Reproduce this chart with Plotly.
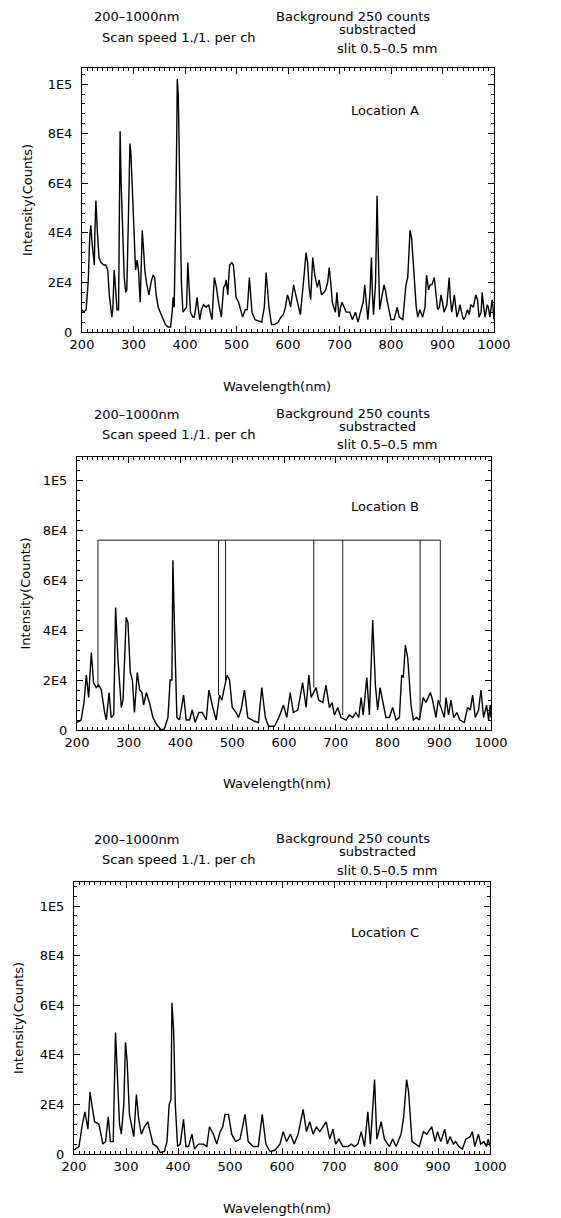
import plotly.graph_objects as go

# ---------------- data (wavelength nm, intensity counts) ----------------
wl_a = [200, 203, 208, 212, 215, 217, 220, 223, 224, 225, 227, 230, 233, 237, 242, 246, 250, 253, 258, 260,
        262.5, 265, 268, 271, 272, 274, 276, 279, 282, 285, 287, 290, 293, 295, 298, 301, 304, 307, 310, 313,
        315, 317, 319, 322, 325, 330, 334, 338, 341, 344, 348, 352, 357, 362, 367, 372, 375, 377, 379, 381,
        382, 384, 385, 387, 388, 390, 391, 393, 396, 400, 403, 405.5, 408, 410.6, 415, 418, 421, 423.5, 426, 428.7,
        432, 436, 441, 446, 449, 452.5, 455, 457, 461, 465, 470.5, 475, 478, 480, 483, 486.6, 491, 494, 497, 499,
        504, 508, 512, 517, 521, 525, 528, 530, 536, 549, 554, 557.5, 560, 563, 568, 574, 581, 586, 591, 595,
        599, 602, 605, 611, 614, 617, 624, 630, 635, 638, 641, 644, 648, 652, 657, 660.5, 665, 670, 673, 677,
        680, 683, 686, 692, 695, 699, 702, 705, 710, 713, 720, 725, 731, 736, 742, 746, 749, 752, 755, 759,
        762, 764, 766, 770, 773, 775, 778, 782, 786.5, 790, 793, 800, 806, 812, 816, 823, 829, 832.5, 835, 837,
        840, 842, 846, 849, 852, 856, 861.5, 866, 869, 873, 876, 879.5, 884, 887, 890.5, 894, 897, 900, 903, 908.5,
        913, 915, 918, 923, 928, 931, 934, 938, 941, 944, 948.5, 952, 955, 960, 964.5, 968, 971, 975, 977, 980,
        982.6, 987, 989, 992, 996.5, 998, 1000]
int_a = [9000, 8000, 9000, 20000, 38000, 43000, 35000, 30000, 27000, 40000, 53000, 40000, 30000, 28000, 27000, 27000, 25000, 15000, 6000, 10000,
         25000, 18000, 9000, 9000, 30000, 81000, 60000, 40000, 22000, 16000, 17000, 45000, 76000, 72000, 55000, 40000, 25000, 29000, 24000, 12000,
         25000, 41000, 35000, 25000, 20000, 15000, 20000, 23000, 22000, 15000, 10000, 8000, 5000, 3000, 2000, 2000, 8000, 14000, 10000, 30000,
         47000, 80000, 102000, 95000, 80000, 50000, 35000, 20000, 8000, 9000, 10000, 28000, 15000, 8000, 6000, 6000, 10000, 14000, 9000, 5000,
         9000, 11000, 10000, 11000, 8000, 5000, 15000, 22000, 18000, 12000, 6000, 18000, 19000, 21000, 15000, 27000, 28000, 27000, 20000, 14000,
         12000, 9000, 6000, 9000, 9000, 22000, 14000, 8000, 5000, 4000, 10000, 24000, 18000, 10000, 3000, 3000, 4000, 6000, 7000, 10000,
         15000, 13000, 10000, 19000, 16000, 13000, 7000, 20000, 32000, 28000, 18000, 13000, 30000, 23000, 18000, 21000, 15000, 16000, 17000, 20000,
         26000, 20000, 12000, 8000, 16000, 6000, 10000, 12000, 9000, 8000, 8000, 5000, 8000, 4000, 9000, 12000, 19000, 12000, 5000, 15000,
         30000, 15000, 7000, 20000, 55000, 35000, 9000, 14000, 19000, 16000, 12000, 5000, 5000, 10000, 6000, 5000, 19000, 22000, 30000, 41000,
         38000, 32000, 20000, 10000, 6000, 9000, 6000, 10000, 23000, 17000, 19000, 19000, 22000, 15000, 9000, 10000, 15000, 12000, 8000, 11000,
         22000, 14000, 8000, 15000, 6000, 8000, 11000, 7000, 5000, 6000, 9000, 7000, 11000, 10000, 15000, 13000, 6000, 8000, 16000, 10000,
         6000, 11000, 10000, 6000, 13000, 10000, 5000]

wl_b = [200, 208, 213.5, 218, 222.5, 227.7, 232, 237, 242, 247, 253.4, 256.6, 262, 266, 271, 274.6, 279, 285.6, 289, 295,
        298.5, 303, 307, 311, 316.5, 321, 325.5, 328.7, 334, 340, 346.7, 354.4, 363, 369, 375.7, 380, 383.4, 385.3, 388.5, 393,
        398, 406, 411, 417.5, 422.6, 428.4, 435.5, 442, 449.7, 454.8, 462.5, 469, 475.4, 480, 483.8, 490, 494.7, 500, 507.6, 512,
        517, 523.6, 530, 543, 550.7, 557, 564, 570, 581.6, 590, 599, 605.4, 612, 618, 626.6, 636, 642.7, 648, 652.4, 662,
        667, 675, 681, 687.8, 693, 697.4, 703.9, 710, 720, 726, 732.8, 739, 744.4, 749, 753, 760, 765, 771.4, 776.6, 781,
        785.6, 792, 797, 803.6, 810, 816.5, 823, 827.4, 830.6, 834.5, 839, 845.4, 850, 856, 861.5, 869, 874.4, 882.8, 887, 893.7,
        898.2, 903.3, 909.8, 913, 918, 922.6, 927.8, 934, 940, 948.4, 954.8, 960, 964.5, 969.6, 976, 980.6, 985.7, 991.5, 995.4, 998.6,
        1000]
int_b = [3000, 4000, 11000, 22000, 13000, 31000, 19000, 17000, 18000, 16000, 7000, 4000, 15000, 5000, 6000, 49000, 29000, 9000, 12000, 45000,
         43000, 23000, 20000, 7000, 23000, 16000, 15000, 10000, 15000, 11000, 5000, 2000, 0, 500, 5000, 20000, 20000, 68000, 40000, 5000,
         4000, 14000, 4000, 4000, 8000, 3000, 7000, 7000, 4000, 16000, 9000, 4000, 14000, 12000, 16000, 22000, 20000, 9000, 7000, 5000,
         8000, 16000, 5000, 3500, 3000, 17000, 5000, 1500, 1500, 5000, 10000, 5000, 15000, 7000, 8000, 19000, 9000, 22000, 13000, 17000,
         12000, 11000, 18000, 9000, 11000, 6000, 9000, 5000, 4000, 6000, 5000, 7000, 5000, 13000, 6000, 21000, 6000, 44000, 18000, 8000,
         17000, 10000, 5000, 5000, 9000, 4000, 5000, 22000, 21000, 34000, 29000, 10000, 4000, 5000, 4000, 13000, 11000, 15000, 12000, 5000,
         12000, 9000, 5000, 13000, 6000, 12000, 5000, 7000, 4000, 3000, 9000, 8000, 14000, 5000, 8000, 16000, 5000, 10000, 4000, 10000,
         5000]

# straight-line artefact drawn in the Location B record (None separates segments)
art_b_x = [240.5, 902, None, 240.5, 240.5, None, 473.5, 473.5, None, 487, 487, None,
           657.5, 657.5, None, 713.5, 713.5, None, 863, 863, None, 902, 902]
art_b_y = [76000, 76000, None, 76000, 17000, None, 76000, 14000, None, 76000, 20000, None,
           76000, 17000, None, 76000, 6000, None, 76000, 5000, None, 76000, 11000]

wl_c = [200, 209.6, 216, 221, 226.8, 230.7, 235, 239.6, 248, 251, 255.6, 260.7, 265.8, 270, 275.4, 279.8, 283, 287.5, 291, 295.8,
        299, 302, 306.6, 310.5, 315, 320, 324.5, 329.6, 335.4, 341.8, 347, 352, 359.6, 366, 373.7, 378.8, 383, 386.5, 388.4, 391.6,
        394.8, 399.2, 404.3, 410.7, 415.2, 420.3, 426.7, 431.8, 439.5, 449, 455.4, 460.5, 468, 474.6, 481, 486, 490.5, 497, 503.3, 511,
        519.3, 528.9, 535, 544.8, 554.4, 562, 569, 576.8, 586.3, 596, 602.3, 608.7, 616.3, 623.4, 631, 640.6, 647, 653.4, 659.8, 666,
        672.5, 685, 691.7, 698, 703, 709.6, 717, 727, 733, 739.6, 746, 752.4, 758.7, 765, 770, 778, 782.4, 790.7, 797, 806.6,
        812.8, 819.4, 829, 834, 839.6, 843.5, 850, 857.5, 864, 872, 878.5, 888, 894.4, 899, 905.4, 913, 918, 923, 929.5, 934,
        940, 947, 953.5, 961.8, 966, 970.8, 977.8, 982, 988.6, 993, 996.6, 1000]
int_c = [1600, 3000, 12000, 17000, 10000, 25000, 19000, 13000, 12000, 9000, 4000, 5000, 15000, 5000, 5000, 49000, 32000, 12000, 8000, 20000,
         45000, 38000, 16000, 12000, 7000, 24000, 14000, 8000, 11000, 13000, 8000, 4000, 3000, 500, 1000, 5000, 20000, 22000, 61000, 50000,
         20000, 3000, 4000, 14000, 3000, 3000, 8000, 2000, 4000, 4000, 3000, 11000, 8000, 4000, 9000, 11000, 16000, 16000, 8000, 5000,
         6000, 16000, 5000, 3000, 3000, 16000, 4000, 1000, 1500, 4000, 9000, 5000, 8000, 4000, 8000, 18000, 9000, 13000, 8000, 11000,
         9000, 13000, 6000, 10000, 4000, 6000, 3000, 3000, 4000, 3000, 4000, 9000, 3000, 17000, 4000, 30000, 6000, 13000, 6000, 3000,
         6000, 3000, 8000, 15000, 30000, 25000, 5000, 4000, 3000, 9000, 8000, 11000, 5000, 9000, 5000, 10000, 4000, 7000, 4000, 5000,
         3000, 2000, 6000, 7000, 9000, 3000, 8000, 4000, 5000, 3000, 6000, 3000]

xticks = [200, 300, 400, 500, 600, 700, 800, 900, 1000]
yticks = [0, 20000, 40000, 60000, 80000, 100000]
yticktext = ["0", "2E4", "4E4", "6E4", "8E4", "1E5"]
locations = ["Location A", "Location B", "Location C"]

# ---------------- layout helpers (page pixel -> paper) ----------------
# the page body has an 8px default margin, so the figure starts at (8, 8)
OFF = 8
W, H = 561 - OFF, 1218 - OFF
def px(x):
    return (x - OFF) / W
def py(y):
    return 1 - (y - OFF) / H

FONT = "DejaVu Sans"
panels = [
    dict(x0=82, x1=494, yt=68, yb=332, ymax=1.065e5, ylx=28, hdr=0),
    dict(x0=77, x1=491, yt=457, yb=730, ymax=1.093e5, ylx=25, hdr=397),
    dict(x0=74, x1=490, yt=882, yb=1154, ymax=1.097e5, ylx=18, hdr=822),
]
series = [(wl_a, int_a), (wl_b, int_b), (wl_c, int_c)]

fig = go.Figure()
annotations = []
for i, (p, (wx, wy)) in enumerate(zip(panels, series)):
    n = "" if i == 0 else str(i + 1)
    xa, ya = "x" + n, "y" + n
    fig.add_trace(go.Scatter(x=wx, y=wy, mode="lines", xaxis=xa, yaxis=ya,
                             line=dict(color="black", width=1.4), showlegend=False))
    if i == 1:
        fig.add_trace(go.Scatter(x=art_b_x, y=art_b_y, mode="lines", xaxis=xa, yaxis=ya,
                                 line=dict(color="black", width=0.9), showlegend=False,
                                 connectgaps=False))
    axcommon = dict(showline=True, linecolor="black", linewidth=1, mirror="ticks",
                    ticks="inside", tickcolor="black", showgrid=False, zeroline=False,
                    automargin=False,
                    tickfont=dict(family=FONT, size=13, color="black"))
    fig.update_layout(**{
        "xaxis" + n: dict(domain=[px(p["x0"]), px(p["x1"])], range=[200, 1000],
                          anchor=ya, tickvals=xticks, ticklen=6, tickwidth=1,
                          minor=dict(tickmode="linear", tick0=200, dtick=10, ticklen=3,
                                     ticks="inside", tickcolor="black"),
                          **axcommon),
        "yaxis" + n: dict(domain=[py(p["yb"]), py(p["yt"])], range=[0, p["ymax"]],
                          anchor=xa, tickvals=yticks, ticktext=yticktext, ticklen=6,
                          tickwidth=1, ticklabelstandoff=6,
                          minor=dict(tickmode="linear", tick0=0, dtick=4000, ticklen=3,
                                     ticks="inside", tickcolor="black"),
                          **axcommon),
    })
    h = p["hdr"]
    tf = dict(family=FONT, size=13, color="black")
    for text, cx, cy in [("200–1000nm", 136, 17), ("Scan speed 1./1. per ch", 179, 37),
                         ("Background 250 counts", 353, 16), ("substracted", 377, 29.5),
                         ("slit 0.5–0.5 mm", 387, 48)]:
        annotations.append(dict(text=text, x=px(cx), y=py(cy + h), xref="paper", yref="paper",
                                showarrow=False, xanchor="center", yanchor="middle", font=tf,
                                borderpad=0))
    loc_y = [110, 506, 932][i]
    annotations.append(dict(text=locations[i], x=px(385), y=py(loc_y), xref="paper", yref="paper",
                            showarrow=False, xanchor="center", yanchor="middle",
                            font=dict(family=FONT, size=13, color="black")))
    annotations.append(dict(text="Wavelength(nm)", x=px(277), y=py(p["yb"] + 54), xref="paper",
                            yref="paper", showarrow=False, xanchor="center", yanchor="middle",
                            font=dict(family=FONT, size=13, color="black")))
    annotations.append(dict(text="Intensity(Counts)", x=px(p["ylx"]), y=py((p["yt"] + p["yb"]) / 2),
                            xref="paper", yref="paper", showarrow=False, textangle=-90,
                            xanchor="center", yanchor="middle",
                            font=dict(family=FONT, size=13, color="black")))

fig.update_layout(width=W, height=H, margin=dict(l=0, r=0, t=0, b=0),
                  paper_bgcolor="white", plot_bgcolor="white", annotations=annotations)
fig.write_html("out.html")
